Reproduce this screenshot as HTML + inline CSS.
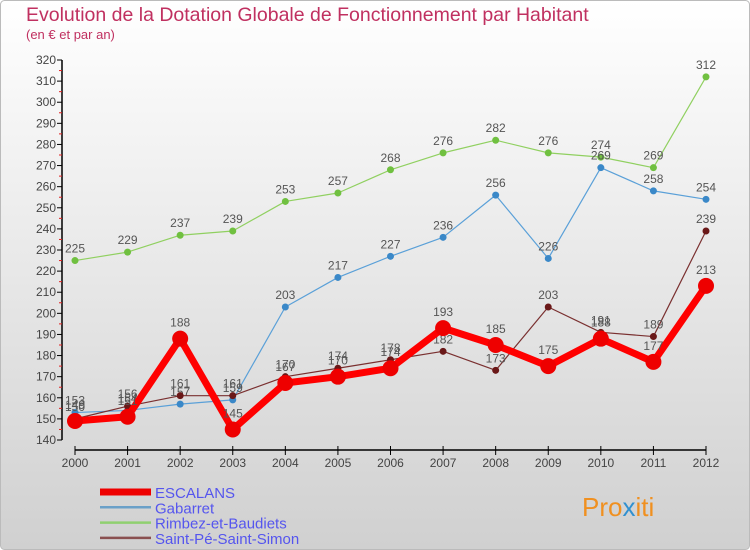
<!DOCTYPE html>
<html><head><meta charset="utf-8"><style>
html,body{margin:0;padding:0;width:750px;height:550px;overflow:hidden}
svg{display:block;font-family:"Liberation Sans",sans-serif}
</style></head><body>
<svg id="chart" width="750" height="550" viewBox="0 0 750 550">
<defs><linearGradient id="bg" x1="0" y1="0" x2="0" y2="1"><stop offset="0" stop-color="#ffffff"/><stop offset="1" stop-color="#d0d0d0"/></linearGradient></defs>
<rect x="0.5" y="0.5" width="749" height="549" rx="4" fill="url(#bg)" stroke="#bbb"/>
<text x="26" y="21" font-size="19.5" fill="#c03060">Evolution de la Dotation Globale de Fonctionnement par Habitant</text>
<text x="26" y="39" font-size="13" fill="#c03060">(en € et par an)</text>
<g id="axes"></g>
<g id="series"></g>
<g id="legend"></g>
<text x="582" y="516" font-size="26" fill="#f09020">Pro<tspan fill="#3090d0">x</tspan>iti</text>
</svg>
<script>
const years=[2000,2001,2002,2003,2004,2005,2006,2007,2008,2009,2010,2011,2012];
const yTicks=[140,150,160,170,180,190,200,210,220,230,240,250,260,270,280,290,300,310,320];
const names=["ESCALANS","Gabarret","Rimbez-et-Baudiets","Saint-Pé-Saint-Simon"];
const escalans=[149,151,188,145,167,170,174,193,185,175,188,177,213];
const gabarret=[153,154,157,159,203,217,227,236,256,226,269,258,254];
const rimbez=[225,229,237,239,253,257,268,276,282,276,274,269,312];
const saintpe=[150,156,161,161,170,174,178,182,173,203,191,189,239];
const NS="http://www.w3.org/2000/svg";
const x=i=>75+i*(706-75)/(years.length-1);
const y=v=>440-(v-140)*380/180;
function mk(tag,attrs,parent){const e=document.createElementNS(NS,tag);for(const k in attrs)e.setAttribute(k,attrs[k]);parent.appendChild(e);return e;}
const axes=document.getElementById('axes');
let ya=mk('line',{x1:62,y1:y(320),x2:62,y2:y(140),stroke:'#000','stroke-width':1.5},axes);


yTicks.forEach((t,k)=>{
 let l=mk('line',{x1:57,x2:62,y1:y(t),y2:y(t),stroke:'#000'},axes);
 
 
 if(k<yTicks.length-1){
  let m=mk('line',{x1:59,x2:62,y1:y(t+5),y2:y(t+5),stroke:'#e02020'},axes);
  
  
 }
 let tx=mk('text',{x:56,y:y(t)+4,'font-size':12,fill:'#444','text-anchor':'end'},axes);
 tx.textContent=t;
 
 
});
let xa=mk('line',{x1:x(0),x2:x(12),y1:450,y2:450,stroke:'#000','stroke-width':1.5},axes);


years.forEach((yr,i)=>{
 let l=mk('line',{x1:x(i),x2:x(i),y1:446,y2:455,stroke:'#000'},axes);
 
 
 let tx=mk('text',{x:x(i),y:467,'font-size':12,fill:'#444','text-anchor':'middle'},axes);
 tx.textContent=yr;
 
 
});
const sg=document.getElementById('series');
const defs=[
 {d:rimbez,c:'#90d060',mc:'#70c040',w:1.2,r:3.5,n:'rimbez'},
 {d:gabarret,c:'#5aa0d8',mc:'#3a88c8',w:1.2,r:3.5,n:'gabarret'},
 {d:saintpe,c:'#7a3030',mc:'#6a1818',w:1.2,r:3.5,n:'saint-pe'},
 {d:escalans,c:'#ff0000',mc:'#ee0000',w:7,r:8,n:'escalans'}
];
defs.forEach(s=>{
 let p=mk('polyline',{points:s.d.map((v,i)=>x(i)+','+y(v)).join(' '),fill:'none',stroke:s.c,'stroke-width':s.w,'stroke-linejoin':'round'},sg);
 
 
 s.d.forEach((v,i)=>{
  let c=mk('circle',{cx:x(i),cy:y(v),r:s.r,fill:s.mc},sg);
  
  
  let t=mk('text',{x:x(i),y:y(v)-8-(s.r>5?4:0),'font-size':12,fill:'#555','text-anchor':'middle'},sg);
  t.textContent=v;
  
  
 });
});
const lg=document.getElementById('legend');
const lcol=['#ee0000','#6aa0c8','#90d070','#8a5050'];
const lw=[7,2.5,2.5,2.5];
names.forEach((n,i)=>{
 const yy=492+i*15.3;
 let l=mk('line',{x1:100,x2:151,y1:yy,y2:yy,stroke:lcol[i],'stroke-width':lw[i]},lg);
 
 
 let t=mk('text',{x:155,y:yy+6,'font-size':15,fill:'#5555ee'},lg);
 t.textContent=n;
 
 
});
</script>
</body></html>
